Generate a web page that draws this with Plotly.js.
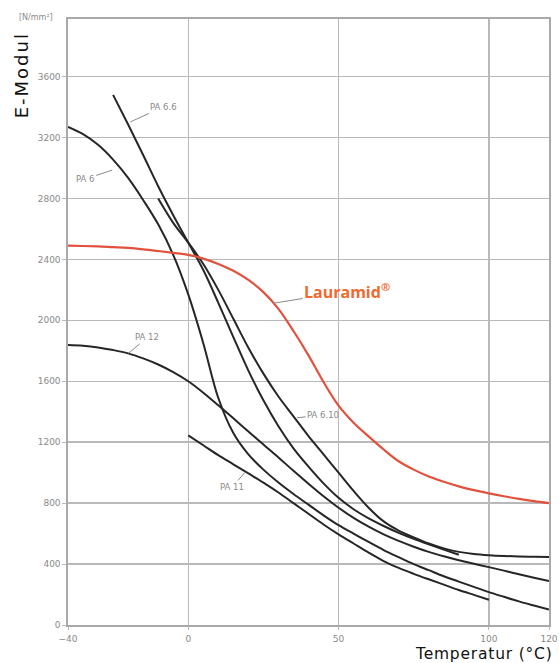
<!DOCTYPE html>
<html>
<head>
<meta charset="utf-8">
<script src="https://cdn.plot.ly/plotly-3.0.1.min.js"></script>
<style>
html,body{margin:0;padding:0;background:#fff;}
#chart{width:559px;height:663px;}
</style>
</head>
<body>
<div id="chart"></div>
<script>
// ---- data ----
const lauramidX = [-40,-35,-30,-25,-20,-15,-10,-5,0,5,10,15,20,25,30,35,40,45,50,55,60,65,70,75,80,85,90,95,100,105,110,115,120];
const lauramidY = [2490,2488,2485,2480,2475,2466,2455,2443,2430,2405,2370,2325,2265,2185,2075,1930,1770,1595,1440,1328,1238,1152,1075,1020,975,940,910,885,864,845,828,813,800];

const pa66X = [-25,-20,-15,-10,-5,0,5,10,15,20,25,30,35,40,45,50,55,60,65,70,75,80,85,90];
const pa66Y = [3480,3285,3085,2880,2690,2510,2330,2115,1890,1670,1475,1305,1160,1040,930,835,760,700,650,605,565,530,495,461];

const pa610X = [-10,-5,0,5,10,15,20,25,30,35,40,45,50,55,60,65,70,75,80,85,90,95,100,105,110,115,120];
const pa610Y = [2800,2640,2510,2370,2200,2010,1820,1650,1500,1370,1240,1120,1000,880,770,680,620,575,535,503,480,466,458,453,450,448,446];

const pa6X = [-40,-35,-30,-25,-20,-15,-10,-5,0,5,10,15,20,25,30,35,40,45,50,55,60,65,70,75,80,85,90,95,100,105,110,115,120];
const pa6Y = [3270,3222,3152,3055,2935,2790,2630,2430,2170,1850,1490,1260,1120,1020,935,860,790,720,655,600,545,492,445,400,360,320,285,250,216,185,155,128,102];

const pa12X = [-40,-35,-30,-25,-20,-15,-10,-5,0,5,10,15,20,25,30,35,40,45,50,55,60,65,70,75,80,85,90,95,100,105,110,115,120];
const pa12Y = [1838,1833,1822,1805,1783,1750,1710,1660,1600,1525,1442,1357,1270,1185,1100,1012,927,845,770,703,645,595,552,514,480,451,425,402,380,357,333,310,288];

const pa11X = [0,5,10,15,20,25,30,35,40,45,50,55,60,65,70,75,80,85,90,95,100];
const pa11Y = [1245,1180,1115,1055,995,935,870,800,730,660,595,535,475,420,375,336,300,265,230,198,166];

const xTickVals = [-40,0,50,100,120];
const xTickText = ['\u221240','0','50','100','120'];
const yTickVals = [0,400,800,1200,1600,2000,2400,2800,3200,3600];
const yTickText = ['0','400','800','1200','1600','2000','2400','2800','3200','3600'];

// label anchor points (where the leader lines touch the curves)
const labelNames = ['PA 6.6','PA 6','PA 6.10','PA 12','PA 11'];
const labelAtX = [-19.3,-25.3,36.2,-19.9,19];
const labelAtY = [3302,2986,1360,1783,1005];
const labelDX = [33,-27,26,19,-13];
const labelDY = [-15,9,-3,-16,15];

// ---- styles ----
const black = '#262626';
const red = '#e2513c';
const grey = '#8a8a8a';
const gridC = '#b9b9b9';

function blackLine(x,y,name){
  return {x:x,y:y,name:name,type:'scatter',mode:'lines',
    line:{color:black,width:2,shape:'spline',smoothing:1},hoverinfo:'skip'};
}

const traces = [
  blackLine(pa12X,pa12Y,'PA12'),
  blackLine(pa11X,pa11Y,'PA11'),
  blackLine(pa6X,pa6Y,'PA6'),
  blackLine(pa610X,pa610Y,'PA6.10'),
  blackLine(pa66X,pa66Y,'PA6.6'),
  {x:lauramidX,y:lauramidY,name:'Lauramid',type:'scatter',mode:'lines',
    line:{color:red,width:2.2,shape:'spline',smoothing:1},hoverinfo:'skip'}
];

const annotations = labelNames.map((t,i)=>({
  x:labelAtX[i], y:labelAtY[i], xref:'x', yref:'y', text:t,
  showarrow:true, arrowhead:0, arrowwidth:1, arrowcolor:grey, standoff:0,
  ax:labelDX[i], ay:labelDY[i],
  font:{family:'DejaVu Sans', size:8.5, color:grey}
}));

annotations.push({
  x:28.3, y:2112, xref:'x', yref:'y', text:'Lauramid<sup>®</sup>',
  showarrow:true, arrowhead:0, arrowwidth:1, arrowcolor:grey, standoff:0,
  ax:74, ay:-12,
  font:{family:'Open Sans', size:16, color:'#f06a30', weight:'bold'}
});
annotations.push({
  x:0, y:1.002, xref:'paper', yref:'paper', xshift:-32, text:'[N/mm²]',
  showarrow:false, xanchor:'center', yanchor:'middle',
  font:{family:'DejaVu Sans', size:8, color:grey}
});
annotations.push({
  x:0, y:0.907, xref:'paper', yref:'paper', xshift:-47, text:'E-Modul',
  showarrow:false, textangle:-90, xanchor:'center', yanchor:'middle',
  font:{family:'DejaVu Sans', size:18, color:'#111'}
});
annotations.push({
  x:1, y:0, xref:'paper', yref:'paper', xshift:-1, yshift:-19, text:'Temperatur (°C)',
  showarrow:false, xanchor:'right', yanchor:'top', borderpad:0,
  font:{family:'DejaVu Sans', size:15.5, color:'#111'}
});

const layout = {
  width:559, height:663,
  margin:{l:68,r:10,t:19,b:38},
  paper_bgcolor:'#fff', plot_bgcolor:'#fff',
  showlegend:false,
  font:{family:'DejaVu Sans', color:grey},
  xaxis:{range:[-40,120], tickvals:xTickVals, ticktext:xTickText,
    showgrid:true, gridcolor:gridC, gridwidth:1.4, zeroline:false,
    showline:true, linecolor:'#a9a9a9', linewidth:1.6, mirror:true,
    ticks:'outside', ticklen:3, tickcolor:gridC, tickfont:{size:9,color:grey},
    ticklabelstandoff:2, fixedrange:true},
  yaxis:{range:[0,3978], tickvals:yTickVals, ticktext:yTickText,
    showgrid:true, gridcolor:gridC, gridwidth:1.4, zeroline:false,
    showline:true, linecolor:'#a9a9a9', linewidth:1.6, mirror:true,
    ticks:'outside', ticklen:4, tickcolor:gridC, tickfont:{size:9,color:grey},
    fixedrange:true},
  annotations:annotations
};

Plotly.newPlot('chart', traces, layout, {staticPlot:true, displayModeBar:false}).then(function(){
  // the reference's axis words are set with wide letter spacing
  const n = annotations.length;
  const g1 = document.querySelector('.annotation[data-index="' + (n-2) + '"] text');
  if (g1) g1.setAttribute('letter-spacing','2');
  const g2 = document.querySelector('.annotation[data-index="' + (n-1) + '"] text');
  if (g2) g2.setAttribute('letter-spacing','0.8');
});
</script>
</body>
</html>
